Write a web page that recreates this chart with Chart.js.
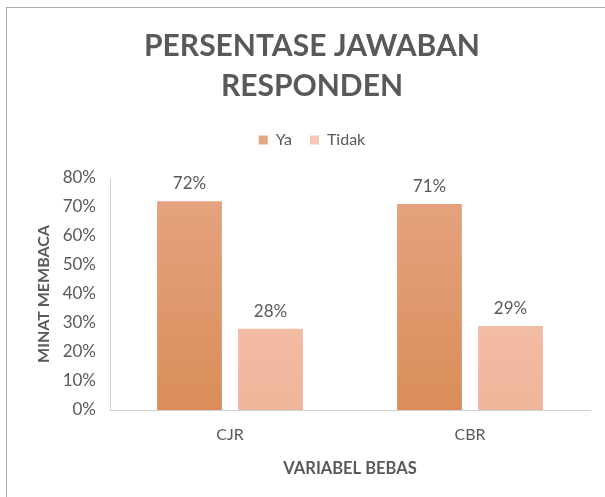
<!DOCTYPE html>
<html>
<head>
<meta charset="utf-8">
<script src="https://cdn.jsdelivr.net/npm/chart.js@4"></script>
<style>
  body { margin: 0; background: #fff; }
  #wrap { position: relative; width: 605px; height: 497px; }
  #frame { position: absolute; left: 6px; top: 7px; right: -2px; bottom: -2px;
           border-left: 1px solid #ababab; border-top: 1px solid #ababab; pointer-events: none; }
</style>
</head>
<body>
<div id="wrap">
  <canvas id="chart" width="605" height="497"></canvas>
  <div id="frame"></div>
</div>
<script>
const categories = ['CJR', 'CBR'];
const seriesNames = ['Ya', 'Tidak'];
const yaValues = [72, 71];
const tidakValues = [28, 29];
const yTicks = [0, 10, 20, 30, 40, 50, 60, 70, 80];

const gray = '#595959';
const font = 'Lato, "Open Sans", sans-serif';

function barFill(top, bottom) {
    return function(ctx) {
        const area = ctx.chart.chartArea;
        if (!area) return bottom;
        const g = ctx.chart.ctx.createLinearGradient(0, area.top, 0, area.bottom);
        g.addColorStop(0, top);
        g.addColorStop(1, bottom);
        return g;
    };
}

// value labels above each bar
const valueLabels = {
    id: 'valueLabels',
    afterDatasetsDraw(chart) {
        const c = chart.ctx;
        c.save();
        c.font = '17px ' + font;
        c.fillStyle = gray;
        c.textAlign = 'center';
        c.textBaseline = 'bottom';
        chart.data.datasets.forEach((ds, i) => {
            chart.getDatasetMeta(i).data.forEach((bar, j) => {
                c.fillText(ds.data[j] + '%', bar.x, bar.y - 9);
            });
        });
        c.restore();
    }
};

// extra room under the legend
const legendGap = {
    id: 'legendGap',
    beforeInit(chart) {
        const fit = chart.legend.fit;
        chart.legend.fit = function() {
            fit.bind(chart.legend)();
            this.height += 20;
        };
    }
};

const context = document.getElementById('chart');

const config = {
    type: 'bar',
    data: {
        labels: categories,
        datasets: [
            {
                label: seriesNames[0],
                data: yaValues,
                backgroundColor: barFill('#e5a582', '#da8d5a'),
                barPercentage: 0.8,
                categoryPercentage: 0.675
            },
            {
                label: seriesNames[1],
                data: tidakValues,
                backgroundColor: barFill('#f6c7b2', '#f0b59b'),
                barPercentage: 0.8,
                categoryPercentage: 0.675
            }
        ]
    },
    options: {
        responsive: false,
        animation: false,
        layout: { padding: { top: 26, left: 34, right: 15, bottom: 18 } },
        plugins: {
            title: {
                display: true,
                text: ['PERSENTASE JAWABAN', 'RESPONDEN'],
                color: gray,
                font: { family: font, size: 30, weight: 'bold', lineHeight: 1.35 },
                padding: { top: 0, bottom: 7 }
            },
            legend: {
                position: 'top',
                labels: {
                    color: gray,
                    font: { family: font, size: 16 },
                    boxWidth: 9,
                    boxHeight: 9,
                    padding: 18
                }
            },
            tooltip: { enabled: false }
        },
        scales: {
            x: {
                grid: { display: false, drawTicks: false },
                border: { color: '#d0d0d0', width: 1 },
                ticks: { color: gray, font: { family: font, size: 16 }, padding: 15 },
                title: {
                    display: true,
                    text: 'VARIABEL BEBAS',
                    color: gray,
                    font: { family: font, size: 16.5, weight: 'bold' },
                    padding: { top: 0, bottom: 0 }
                }
            },
            y: {
                min: 0,
                max: 80,
                afterBuildTicks: axis => { axis.ticks = yTicks.map(v => ({ value: v })); },
                grid: { display: false, drawOnChartArea: false, drawTicks: true, tickLength: 5, tickColor: '#d0d0d0' },
                border: { color: '#d0d0d0', width: 1 },
                ticks: {
                    color: gray,
                    font: { family: font, size: 17 },
                    padding: 9,
                    callback: v => v + '%'
                },
                title: {
                    display: true,
                    text: 'MINAT MEMBACA',
                    color: gray,
                    font: { family: font, size: 16, weight: 'bold' },
                    padding: { top: 0, bottom: 6 }
                },
                afterFit: axis => { axis.width = 76; }
            }
        }
    },
    plugins: [valueLabels, legendGap]
};

const chart = new Chart(context, config);
</script>
</body>
</html>
